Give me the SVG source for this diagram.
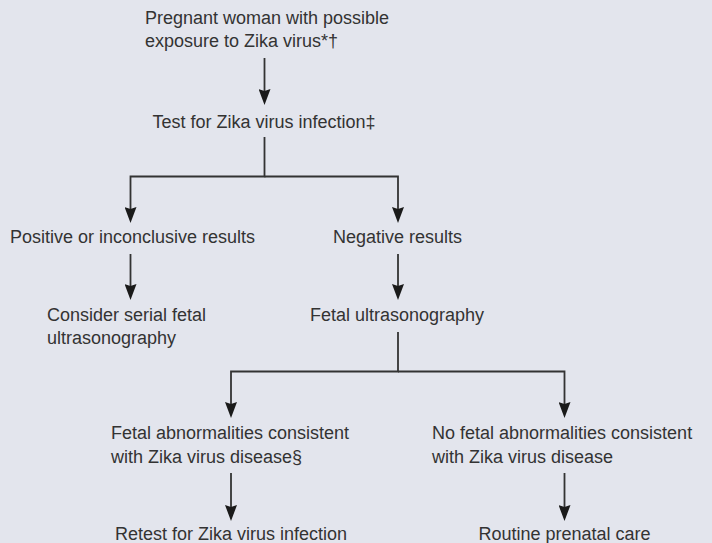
<svg xmlns="http://www.w3.org/2000/svg" width="712" height="543" viewBox="0 0 712 543">
  <style>
    .t { font-family: "Liberation Sans", Arial, sans-serif; font-size: 18px; fill: #333333; }
    .m { text-anchor: middle; }
    .c { fill: none; stroke: #333333; stroke-width: 1.8; }
  </style>
  <defs>
    <marker id="ah" viewBox="0 0 16 12" markerWidth="16" markerHeight="12" refX="8" refY="6" orient="auto" markerUnits="userSpaceOnUse">
      <path d="M0,0 L16,6 L0,12 L2,6 Z" fill="#1a1a1a"/>
    </marker>
  </defs>
  <rect width="712" height="543" fill="#e3e5ed"/>

  <g id="connectors">
    <path class="c" d="M264.5,58 V97" marker-end="url(#ah)"/>
    <path class="c" d="M264.5,137 V176.5 H130.5 V215" marker-end="url(#ah)"/>
    <path class="c" d="M264.5,176.5 H398 V215" marker-end="url(#ah)"/>
    <path class="c" d="M130.5,254 V292" marker-end="url(#ah)"/>
    <path class="c" d="M398,254 V292" marker-end="url(#ah)"/>
    <path class="c" d="M398,332 V371.5 H231 V410" marker-end="url(#ah)"/>
    <path class="c" d="M398,371.5 H564.5 V410" marker-end="url(#ah)"/>
    <path class="c" d="M231,473 V513" marker-end="url(#ah)"/>
    <path class="c" d="M564.5,473 V513" marker-end="url(#ah)"/>
  </g>

  <g id="n-pregnant">
    <text class="t" x="145" y="24">Pregnant woman with possible</text>
    <text class="t" x="145" y="47">exposure to Zika virus*†</text>
  </g>
  <g id="n-test">
    <text class="t m" x="264" y="128">Test for Zika virus infection‡</text>
  </g>
  <g id="n-positive">
    <text class="t" x="10" y="243">Positive or inconclusive results</text>
  </g>
  <g id="n-negative">
    <text class="t" x="333" y="243">Negative results</text>
  </g>
  <g id="n-serial">
    <text class="t" x="47" y="321">Consider serial fetal</text>
    <text class="t" x="47" y="344">ultrasonography</text>
  </g>
  <g id="n-ultrasound">
    <text class="t" x="310" y="321">Fetal ultrasonography</text>
  </g>
  <g id="n-abnormal">
    <text class="t" x="111" y="439">Fetal abnormalities consistent</text>
    <text class="t" x="111" y="463">with Zika virus disease§</text>
  </g>
  <g id="n-normal">
    <text class="t" x="432" y="439">No fetal abnormalities consistent</text>
    <text class="t" x="432" y="463">with Zika virus disease</text>
  </g>
  <g id="n-retest">
    <text class="t m" x="231" y="540">Retest for Zika virus infection</text>
  </g>
  <g id="n-routine">
    <text class="t m" x="564.5" y="540">Routine prenatal care</text>
  </g>
</svg>
